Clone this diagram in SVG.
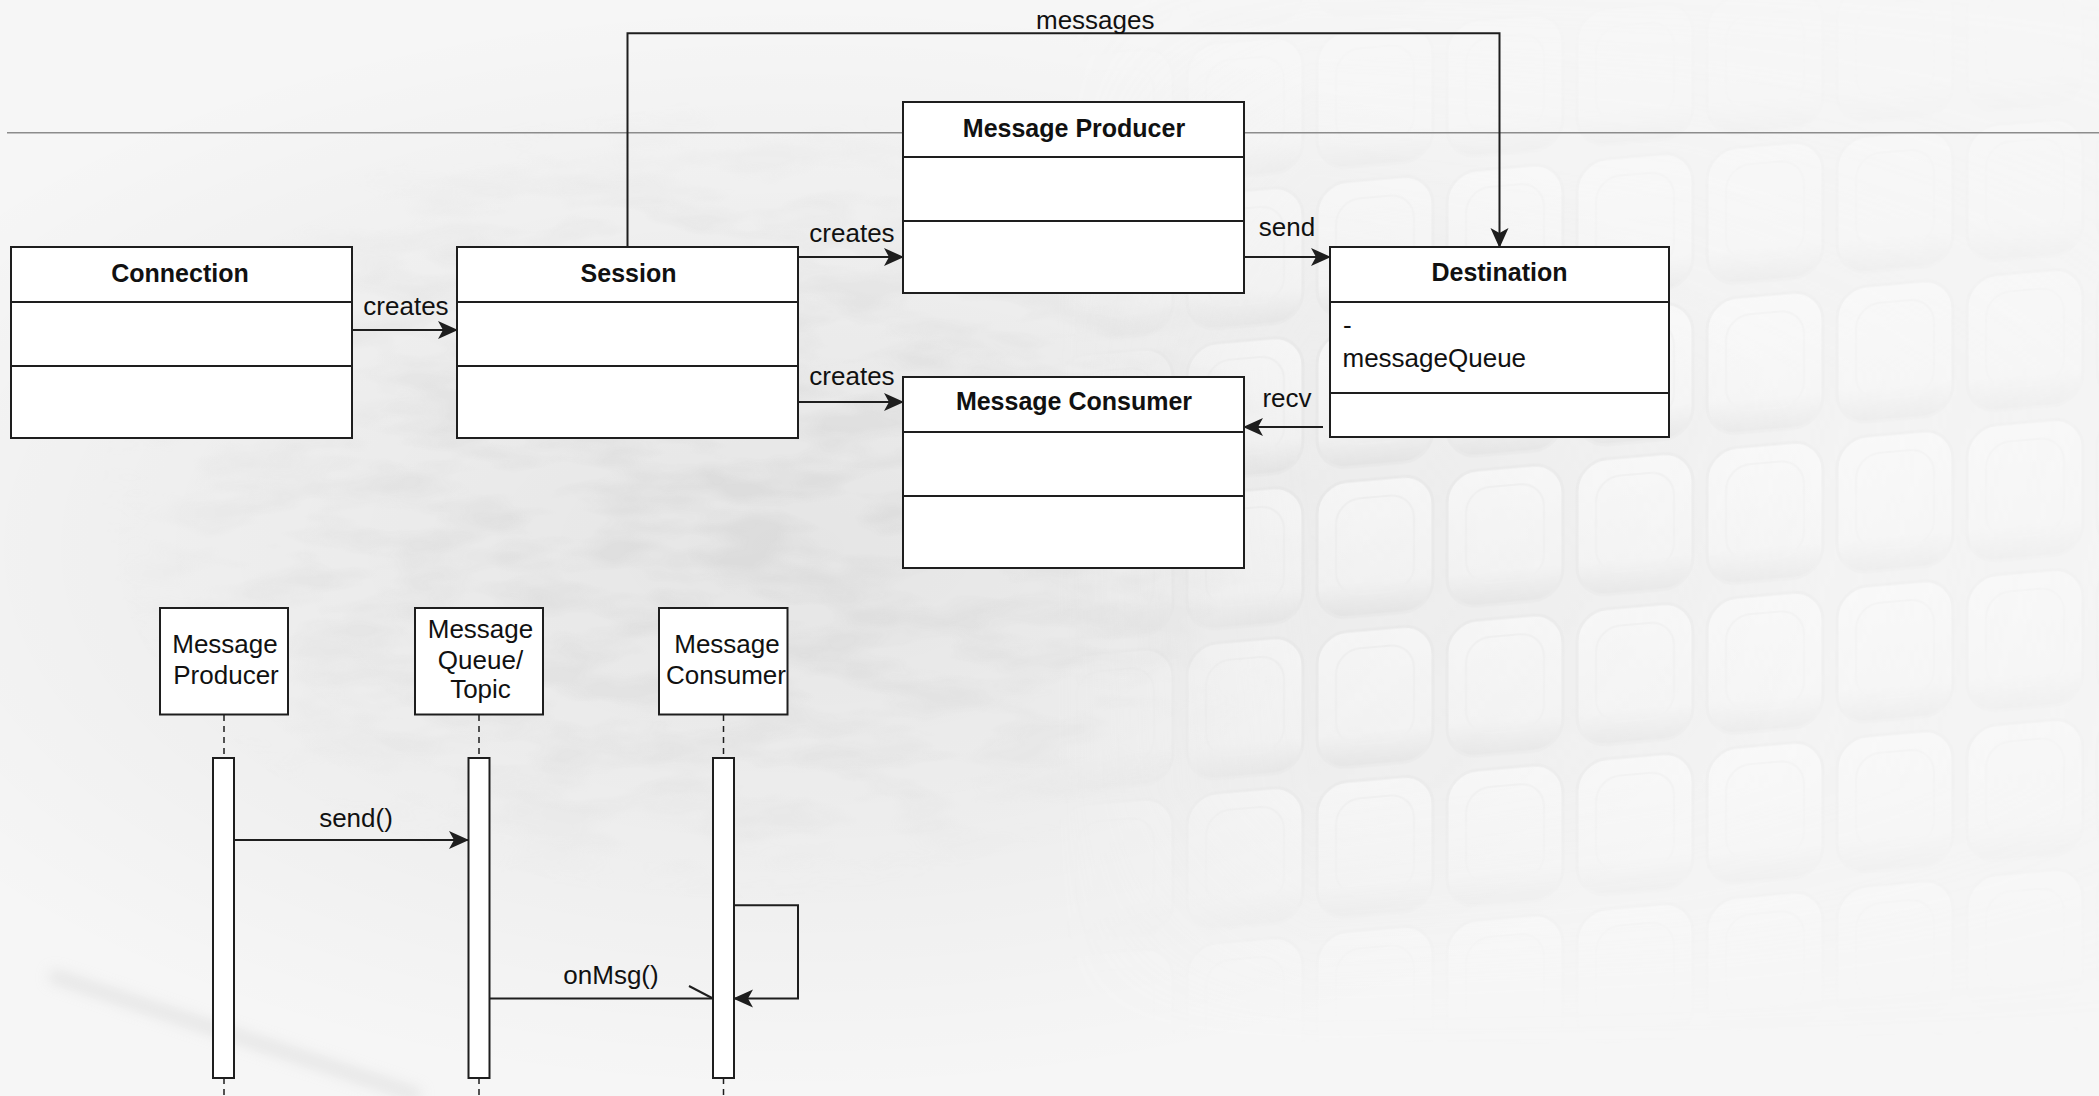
<svg xmlns="http://www.w3.org/2000/svg" width="2099" height="1096" viewBox="0 0 2099 1096">
  <defs>
    <style>
      .box { fill: #ffffff; stroke: #1e1e1e; stroke-width: 2; }
      .div { stroke: #1e1e1e; stroke-width: 2; fill: none; }
      .edge { stroke: #1e1e1e; stroke-width: 2; fill: none; }
      .life { stroke: #1e1e1e; stroke-width: 1.5; stroke-dasharray: 6 5; fill: none; }
      .title { font-family: "Liberation Sans", Arial, sans-serif; font-size: 25px; font-weight: bold; fill: #111; text-anchor: middle; }
      .lbl { font-family: "Liberation Sans", Arial, sans-serif; font-size: 26px; fill: #111; }
      .mid { text-anchor: middle; }
    </style>

    <!-- classic filled arrowhead -->
    <marker id="arrow" viewBox="0 0 20 20" refX="19" refY="10" markerWidth="20" markerHeight="20" markerUnits="userSpaceOnUse" orient="auto">
      <path d="M0,1 L20,10 L0,19 L5,10 Z" fill="#1e1e1e"/>
    </marker>

    <!-- background shading -->
    <radialGradient id="scaleGlow" cx="0.38" cy="0.5" r="0.5">
      <stop offset="0" stop-color="#000" stop-opacity="0.07"/>
      <stop offset="0.6" stop-color="#000" stop-opacity="0.03"/>
      <stop offset="1" stop-color="#000" stop-opacity="0"/>
    </radialGradient>
    <linearGradient id="bumpShade" x1="0" y1="0" x2="0" y2="1">
      <stop offset="0" stop-color="#ffffff"/>
      <stop offset="0.75" stop-color="#f6f6f6"/>
      <stop offset="1" stop-color="#d6d6d6"/>
    </linearGradient>
    <pattern id="bumps" width="130" height="150" patternUnits="userSpaceOnUse" patternTransform="translate(1180 40) skewY(-5)">
      <rect x="0" y="0" width="130" height="150" fill="#ececec"/>
      <rect x="7" y="6" width="116" height="136" rx="30" fill="url(#bumpShade)" stroke="#e2e2e2" stroke-width="3"/>
      <rect x="26" y="24" width="78" height="96" rx="24" fill="none" stroke="#eeeeee" stroke-width="2"/>
    </pattern>
    <linearGradient id="bumpFadeX" x1="0" y1="0" x2="1" y2="0">
      <stop offset="0" stop-color="#fff" stop-opacity="0"/>
      <stop offset="0.25" stop-color="#fff" stop-opacity="0.9"/>
      <stop offset="0.6" stop-color="#fff" stop-opacity="0.7"/>
      <stop offset="1" stop-color="#fff" stop-opacity="0.35"/>
    </linearGradient>
    <linearGradient id="bumpFadeY" x1="0" y1="0" x2="0" y2="1">
      <stop offset="0" stop-color="#fff" stop-opacity="0.1"/>
      <stop offset="0.35" stop-color="#fff" stop-opacity="1"/>
      <stop offset="0.75" stop-color="#fff" stop-opacity="0.8"/>
      <stop offset="1" stop-color="#fff" stop-opacity="0"/>
    </linearGradient>
    <mask id="bumpMaskY">
      <rect x="1050" y="0" width="1049" height="1050" fill="url(#bumpFadeY)"/>
    </mask>
    <mask id="bumpMask">
      <rect x="1050" y="0" width="1049" height="1050" fill="url(#bumpFadeX)" mask="url(#bumpMaskY)"/>
    </mask>
    <filter id="scaly" x="0" y="0" width="100%" height="100%">
      <feTurbulence type="fractalNoise" baseFrequency="0.01 0.03" numOctaves="3" seed="7"/>
      <feColorMatrix type="matrix" values="0 0 0 0 0.55  0 0 0 0 0.55  0 0 0 0 0.55  0 0 0 -3 1.8"/>
    </filter>
    <radialGradient id="scaleMaskGrad" cx="0.5" cy="0.5" r="0.5">
      <stop offset="0" stop-color="#fff" stop-opacity="0.3"/>
      <stop offset="0.7" stop-color="#fff" stop-opacity="0.15"/>
      <stop offset="1" stop-color="#fff" stop-opacity="0"/>
    </radialGradient>
    <mask id="scaleMask">
      <ellipse cx="720" cy="500" rx="620" ry="400" fill="url(#scaleMaskGrad)"/>
    </mask>
    <filter id="soft" x="-20%" y="-20%" width="140%" height="140%">
      <feGaussianBlur stdDeviation="7"/>
    </filter>

    <clipPath id="clipMessages">
      <rect x="1000" y="0" width="158" height="40"/>
    </clipPath>
    <clipPath id="clipConsumerHead">
      <rect x="660" y="609" width="126" height="104"/>
    </clipPath>
  </defs>

  <!-- background -->
  <g id="background">
    <rect x="0" y="0" width="2099" height="1096" fill="#f6f6f6"/>
    <rect x="0" y="0" width="2099" height="1096" fill="url(#scaleGlow)"/>
    <rect x="0" y="0" width="2099" height="1096" filter="url(#scaly)" mask="url(#scaleMask)"/>
    <rect x="1050" y="0" width="1049" height="1050" fill="url(#bumps)" mask="url(#bumpMask)" opacity="0.55"/>
    <path d="M50,975 L420,1096" stroke="#d2d2d2" stroke-width="12" fill="none" filter="url(#soft)" opacity="0.5"/>
  </g>

  <!-- thin rule across the page -->
  <line x1="7" y1="132.7" x2="2099" y2="132.7" stroke="#8c8c8c" stroke-width="1.5"/>

  <!-- connectors -->
  <g id="connectors">
    <path class="edge" d="M352,330 L457,330" marker-end="url(#arrow)"/>
    <text class="lbl mid" x="406" y="315">creates</text>

    <path class="edge" d="M798,257 L903,257" marker-end="url(#arrow)"/>
    <text class="lbl mid" x="852" y="242">creates</text>

    <path class="edge" d="M798,402 L903,402" marker-end="url(#arrow)"/>
    <text class="lbl mid" x="852" y="385">creates</text>

    <path class="edge" d="M1244,257 L1330,257" marker-end="url(#arrow)"/>
    <text class="lbl mid" x="1287" y="236">send</text>

    <path class="edge" d="M1323,427 L1244,427" marker-end="url(#arrow)"/>
    <text class="lbl mid" x="1287" y="407">recv</text>

    <path class="edge" d="M627.5,247 L627.5,33.3 L1499.5,33.3 L1499.5,247" marker-end="url(#arrow)"/>
    <text class="lbl" x="1036" y="28.5" clip-path="url(#clipMessages)">messages</text>

    <!-- sequence messages -->
    <path class="edge" d="M234,840 L468,840" marker-end="url(#arrow)"/>
    <text class="lbl mid" x="356" y="827">send()</text>

    <path class="edge" d="M490,998.6 L713,998.6"/>
    <path class="edge" d="M689,986 L712,998"/>
    <text class="lbl mid" x="611" y="984">onMsg()</text>

    <path class="edge" d="M734,905.3 L798,905.3 L798,998.6 L734,998.6" marker-end="url(#arrow)"/>
  </g>

  <!-- class nodes -->
  <g id="connection">
    <rect class="box" x="11" y="247" width="341" height="191"/>
    <line class="div" x1="11" y1="302" x2="352" y2="302"/>
    <line class="div" x1="11" y1="366" x2="352" y2="366"/>
    <text class="title" x="180" y="282">Connection</text>
  </g>

  <g id="session">
    <rect class="box" x="457" y="247" width="341" height="191"/>
    <line class="div" x1="457" y1="302" x2="798" y2="302"/>
    <line class="div" x1="457" y1="366" x2="798" y2="366"/>
    <text class="title" x="628.5" y="282">Session</text>
  </g>

  <g id="message-producer">
    <rect class="box" x="903" y="102" width="341" height="191"/>
    <line class="div" x1="903" y1="157" x2="1244" y2="157"/>
    <line class="div" x1="903" y1="221" x2="1244" y2="221"/>
    <text class="title" x="1074" y="137">Message Producer</text>
  </g>

  <g id="message-consumer">
    <rect class="box" x="903" y="377" width="341" height="191"/>
    <line class="div" x1="903" y1="432" x2="1244" y2="432"/>
    <line class="div" x1="903" y1="496" x2="1244" y2="496"/>
    <text class="title" x="1074" y="410">Message Consumer</text>
  </g>

  <g id="destination">
    <rect class="box" x="1330" y="247" width="339" height="190"/>
    <line class="div" x1="1330" y1="302" x2="1669" y2="302"/>
    <line class="div" x1="1330" y1="393" x2="1669" y2="393"/>
    <text class="title" x="1499.5" y="281">Destination</text>
    <text class="lbl" x="1343" y="334">-</text>
    <text class="lbl" x="1342.5" y="366.5">messageQueue</text>
  </g>

  <!-- sequence lifelines -->
  <g id="lifeline-producer">
    <rect class="box" x="160" y="608" width="128" height="106.5"/>
    <text class="lbl mid" x="225" y="653">Message</text>
    <text class="lbl mid" x="226" y="684">Producer</text>
    <line class="life" x1="224" y1="715" x2="224" y2="758"/>
    <line class="life" x1="224" y1="1078" x2="224" y2="1096"/>
    <rect class="box" x="213" y="758" width="21" height="320"/>
  </g>

  <g id="lifeline-queue">
    <rect class="box" x="415" y="608" width="128" height="106.5"/>
    <text class="lbl mid" x="480.5" y="638.3">Message</text>
    <text class="lbl mid" x="480.5" y="668.5">Queue/</text>
    <text class="lbl mid" x="480.5" y="698.3">Topic</text>
    <line class="life" x1="479" y1="715" x2="479" y2="758"/>
    <line class="life" x1="479" y1="1078" x2="479" y2="1096"/>
    <rect class="box" x="468.5" y="758" width="21" height="320"/>
  </g>

  <g id="lifeline-consumer">
    <rect class="box" x="659" y="608" width="128.5" height="106.5"/>
    <text class="lbl mid" x="727" y="653">Message</text>
    <text class="lbl" x="666" y="684" clip-path="url(#clipConsumerHead)">Consumer</text>
    <line class="life" x1="723.5" y1="715" x2="723.5" y2="758"/>
    <line class="life" x1="723.5" y1="1078" x2="723.5" y2="1096"/>
    <rect class="box" x="713" y="758" width="21" height="320"/>
  </g>
</svg>
